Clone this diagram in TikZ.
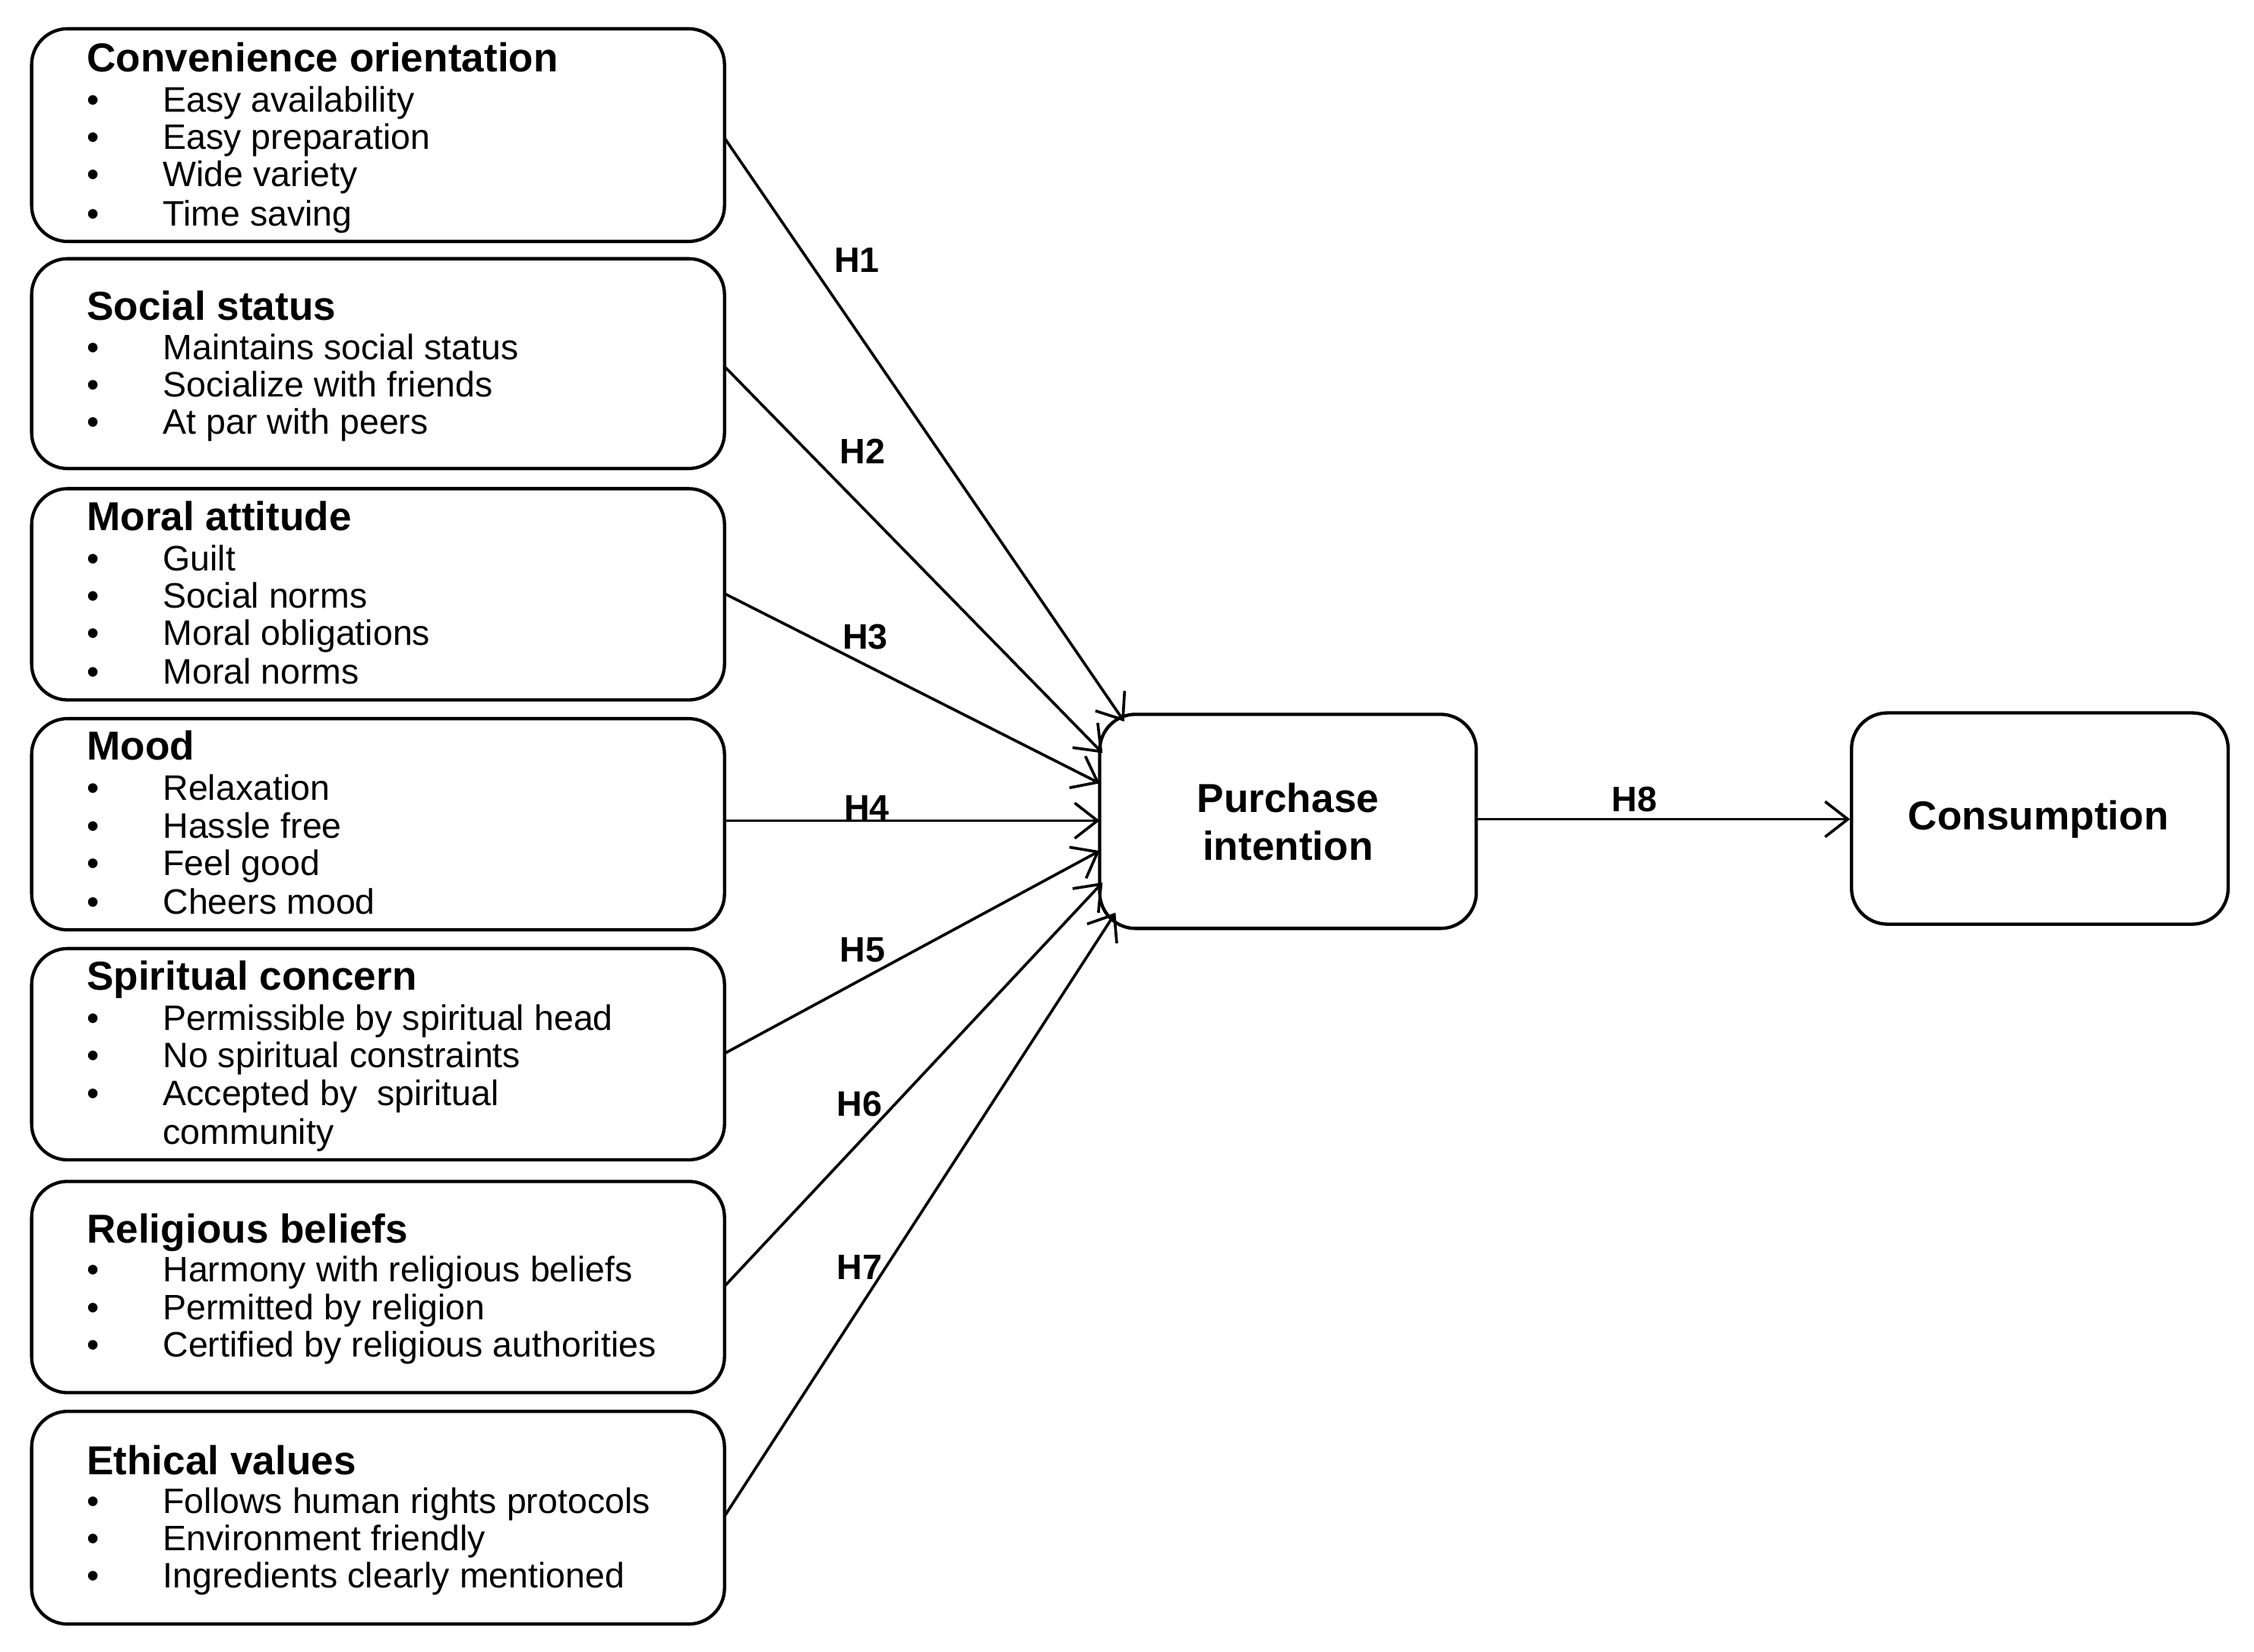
\documentclass[tikz,border=0pt]{standalone}
\usepackage{fontspec}
\setmainfont{Liberation Sans}
\usetikzlibrary{arrows.meta}
\begin{document}
\begin{tikzpicture}[x=0.02cm,y=-0.02cm,
 box/.style={draw,line width=1.3pt,rounded corners=0.5cm,inner sep=0pt},
 ttl/.style={anchor=base west,font=\fontsize{16}{17}\selectfont\bfseries,inner sep=0pt},
 itm/.style={anchor=base west,font=\fontsize{14}{15}\selectfont,inner sep=0pt},
 hl/.style={font=\fontsize{14}{15}\selectfont\bfseries,inner sep=0pt},
 big/.style={align=center,font=\fontsize{16}{19}\selectfont\bfseries},
 arr/.style={line width=1.1pt,-{Straight Barb[length=9pt,width=14pt,line width=1.1pt]}}]
\useasboundingbox (0,0) rectangle (1568,1149);
\newcommand{\mybox}[5]{%
 \draw[box] (22,#2) rectangle (504,#3);
 \coordinate (#1) at (504,#5);
 \node[ttl] at (60,#4) {#2};}
\renewcommand{\mybox}[6]{%
 \draw[box] (22,#2) rectangle (504,#3);
 \coordinate (#1) at (504,#5);
 \node[ttl] at (60,#4) {#6};}
\newcommand{\myitem}[2]{\node[itm] at (60,#1) {•}; \node[itm] at (113,#1) {#2};}
\mybox{b1}{20}{168}{50}{96}{Convenience orientation}
\myitem{78}{Easy availability}\myitem{104}{Easy preparation}\myitem{130}{Wide variety}\myitem{157}{Time saving}
\mybox{b2}{180}{326}{223}{255}{Social status}
\myitem{250}{Maintains social status}\myitem{276}{Socialize with friends}\myitem{302}{At par with peers}
\mybox{b3}{340}{487}{369}{413}{Moral attitude}
\myitem{397}{Guilt}\myitem{423}{Social norms}\myitem{449}{Moral obligations}\myitem{476}{Moral norms}
\mybox{b4}{500}{647}{529}{571}{Mood}
\myitem{557}{Relaxation}\myitem{583}{Hassle free}\myitem{609}{Feel good}\myitem{636}{Cheers mood}
\mybox{b5}{660}{807}{689}{733}{Spiritual concern}
\myitem{717}{Permissible by spiritual head}\myitem{743}{No spiritual constraints}\myitem{769}{Accepted by \ spiritual}
\node[itm] at (113,796) {community};
\mybox{b6}{822}{969}{865}{895}{Religious beliefs}
\myitem{892}{Harmony with religious beliefs}\myitem{918}{Permitted by religion}\myitem{944}{Certified by religious authorities}
\mybox{b7}{982}{1130}{1026}{1055}{Ethical values}
\myitem{1053}{Follows human rights protocols}\myitem{1079}{Environment friendly}\myitem{1105}{Ingredients clearly mentioned}
\draw[box] (765,497) rectangle (1027,646);
\node[big] (pi) at (896,572) {Purchase\\intention};
\draw[box] (1288,496) rectangle (1550,643);
\node[big] (co) at (1418,570) {Consumption};
\coordinate (e1) at (782,502);\coordinate (e2) at (767,524);\coordinate (e3) at (765,545);
\coordinate (e4) at (765,571);\coordinate (e5) at (765,592);\coordinate (e6) at (767,614);\coordinate (e7) at (776,635);
\coordinate (p8) at (1027,570);\coordinate (c8) at (1287,570);
\draw[arr] (b1)--(e1);\draw[arr] (b2)--(e2);\draw[arr] (b3)--(e3);\draw[arr] (b4)--(e4);
\draw[arr] (b5)--(e5);\draw[arr] (b6)--(e6);\draw[arr] (b7)--(e7);\draw[arr] (p8)--(c8);
\node[hl] at (596,181) {H1};\node[hl] at (600,314) {H2};\node[hl] at (602,443) {H3};
\node[hl] at (603,562) {H4};\node[hl] at (600,661) {H5};\node[hl] at (598,768) {H6};
\node[hl] at (598,882) {H7};\node[hl] at (1137,556) {H8};
\end{tikzpicture}
\end{document}
